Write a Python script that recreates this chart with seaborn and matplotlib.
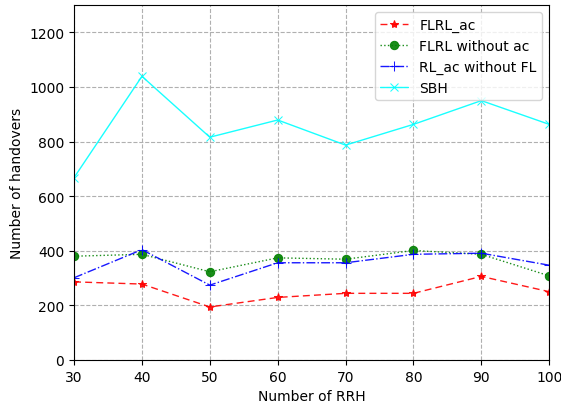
import matplotlib
matplotlib.use("Agg")
import matplotlib.pyplot as plt
import seaborn as sns
import pandas as pd

rrh = [30, 40, 50, 60, 70, 80, 90, 100]
flrl_ac = [286, 278, 194, 229, 244, 244, 306, 250]
flrl_without_ac = [380, 387, 323, 374, 369, 401, 387, 308]
rl_ac_without_fl = [301, 404, 274, 356, 356, 387, 391, 347]
sbh = [668, 1039, 816, 879, 787, 863, 950, 863]

series = [
    ("FLRL_ac", flrl_ac, "red", "*", (0, (5, 3)), 6),
    ("FLRL without ac", flrl_without_ac, "green", "o", ":", 6),
    ("RL_ac without FL", rl_ac_without_fl, "blue", "+", "-.", 7),
    ("SBH", sbh, "cyan", "x", "-", 6),
]

sns.set_style("ticks", {"axes.edgecolor": "black", "text.color": "black",
                        "axes.labelcolor": "black", "xtick.color": "black",
                        "ytick.color": "black"})
plt.rcParams['font.family'] = ['DejaVu Sans']

fig = plt.figure(figsize=(5.61, 4.06), dpi=100)
ax = fig.add_axes([0.132, 0.111, 0.847, 0.874])

for name, vals, color, marker, ls, ms in series:
    df = pd.DataFrame({"x": rrh, "y": vals})
    sns.lineplot(data=df, x="x", y="y", ax=ax, color=color, marker=marker,
                 linestyle=ls, linewidth=1, markersize=ms, alpha=0.9,
                 markeredgecolor=color, markerfacecolor=color, label=name)

ax.set_xlim(30, 100)
ax.set_ylim(0, 1300)
ax.set_yticks(range(0, 1300, 200))
ax.set_xticks(rrh)
ax.grid(True, linestyle="--", color="#b0b0b0", linewidth=0.8)
ax.set_xlabel("Number of RRH")
ax.set_ylabel("Number of handovers")
for s in ax.spines.values():
    s.set_visible(True)
    s.set_color("black")
ax.legend(loc="upper right")
fig.savefig("out.png", dpi=100)
